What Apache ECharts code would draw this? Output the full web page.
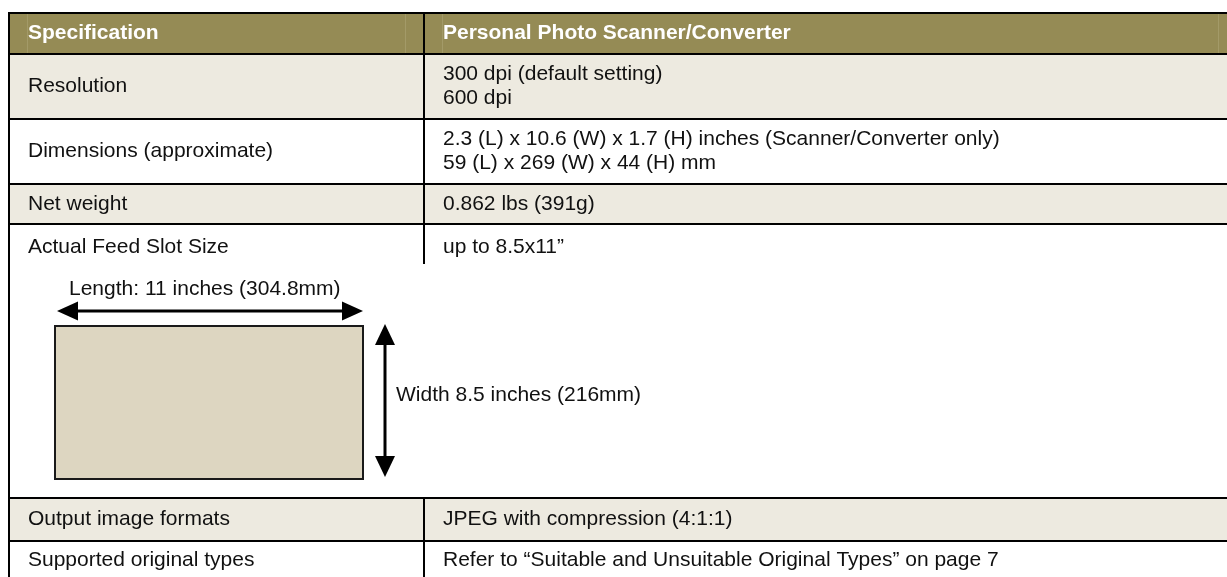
<!DOCTYPE html>
<html><head><meta charset="utf-8">
<script src="https://cdn.jsdelivr.net/npm/echarts@6/dist/echarts.min.js"></script>
<style>html,body{margin:0;padding:0;background:#fff}#c{width:1227px;height:577px}</style>
</head><body><div id="c"></div>
<script>
// ---- content ----
const headers = ['Specification', 'Personal Photo Scanner/Converter'];
const specNames = ['Resolution', 'Dimensions (approximate)', 'Net weight', 'Actual Feed Slot Size', 'Output image formats', 'Supported original types'];
const specValues = [
  ['300 dpi (default setting)', '600 dpi'],
  ['2.3 (L) x 10.6 (W) x 1.7 (H) inches (Scanner/Converter only)', '59 (L) x 269 (W) x 44 (H) mm'],
  ['0.862 lbs (391g)'],
  ['up to 8.5x11\u201d'],
  ['JPEG with compression (4:1:1)'],
  ['Refer to \u201cSuitable and Unsuitable Original Types\u201d on page 7']
];
const slotLabels = ['Length: 11 inches (304.8mm)', 'Width 8.5 inches (216mm)'];

// ---- layout (pixels) ----
const W = 1227, H = 577;
const tableLeft = 9, colSplit = 424, padLeftCol = 28, padRightCol = 443;
const rowEdges = [13, 54, 119, 184, 224, 498, 541, 579];   // header + 6 rows
const textBand = {3: [224, 270]};                          // text band for the slot row
const splitBreak = [264, 498];                             // column divider gap (diagram area)
const headGuides = [27, 405, 442, 1218];                   // faint cell-margin guides in header
const lineH = 24;
const FONT = '21px "Liberation Sans", Arial, sans-serif';
const FONT_B = 'bold 21px "Liberation Sans", Arial, sans-serif';
const C_HEAD = '#958B55', C_BEIGE = '#EDEAE0', C_WHITE = '#FFFFFF', C_TEXT = '#111111', C_BOX = '#DDD6C1';
const rowFill = [C_BEIGE, C_WHITE, C_BEIGE, C_WHITE, C_BEIGE, C_WHITE];
// diagram geometry
const box = {x0: 55, y0: 326, x1: 363, y1: 479};
const hArrow = {x0: 57, x1: 363, y: 311};
const vArrow = {x: 385, y0: 324, y1: 477};
const head = 21, headHalf = 9.5;
const lenLabelPos = [69, 289], widLabelPos = [396, 395];

const rowsData = [-1].concat(specNames.map((_, i) => i)).map(i => [i]);

function P(api, x, y) { return api.coord([x, y]); }

function rowRender(params, api) {
  const i = api.value(0);
  const r = i + 1;
  const top = rowEdges[r], bot = rowEdges[r + 1];
  const a = P(api, tableLeft, top), b = P(api, W, bot);
  const isHead = i === -1;
  const fill = isHead ? C_HEAD : rowFill[i];
  const band = textBand[i] || [top, bot];
  const cy = P(api, 0, (band[0] + band[1]) / 2)[1];
  const children = [{type: 'rect', shape: {x: a[0], y: a[1], width: b[0] - a[0], height: b[1] - a[1]}, style: {fill: fill}}];
  if (isHead) {
    headGuides.forEach(gx => {
      const p = P(api, gx + 0.5, top), q = P(api, gx + 0.5, bot);
      children.push({type: 'line', shape: {x1: p[0], y1: p[1], x2: q[0], y2: q[1]}, style: {stroke: '#A39A68', lineWidth: 1}});
    });
  }
  const t0 = isHead ? headers[0] : specNames[i];
  const t1 = isHead ? headers[1] : specValues[i].join('\n');
  [[padLeftCol, t0], [padRightCol, t1]].forEach(([x, t]) => {
    children.push({type: 'text', x: P(api, x, 0)[0], y: cy,
      style: {text: t, font: isHead ? FONT_B : FONT, fill: isHead ? '#FFFFFF' : C_TEXT,
              align: 'left', verticalAlign: 'middle', lineHeight: lineH}});
  });
  return {type: 'group', children};
}

function linesRender(params, api) {
  const ch = [];
  const seg = (x0, y0, x1, y1) => {
    const p = P(api, x0, y0), q = P(api, x1, y1);
    ch.push({type: 'line', shape: {x1: p[0], y1: p[1], x2: q[0], y2: q[1]}, style: {stroke: '#000', lineWidth: 2}});
  };
  rowEdges.slice(0, -1).forEach(y => seg(tableLeft - 1, y, W, y));
  seg(tableLeft, rowEdges[0], tableLeft, H);
  seg(colSplit, rowEdges[0], colSplit, splitBreak[0]);
  seg(colSplit, splitBreak[1], colSplit, H);
  return {type: 'group', children: ch};
}

function diagramRender(params, api) {
  const ch = [];
  const a = P(api, box.x0, box.y0), b = P(api, box.x1, box.y1);
  ch.push({type: 'rect', shape: {x: a[0], y: a[1], width: b[0] - a[0], height: b[1] - a[1]}, style: {fill: C_BOX, stroke: '#1a1a1a', lineWidth: 2}});
  const poly = pts => ch.push({type: 'polygon', shape: {points: pts.map(p => P(api, p[0], p[1]))}, style: {fill: '#000'}});
  const ln = (x0, y0, x1, y1) => {
    const p = P(api, x0, y0), q = P(api, x1, y1);
    ch.push({type: 'line', shape: {x1: p[0], y1: p[1], x2: q[0], y2: q[1]}, style: {stroke: '#000', lineWidth: 3}});
  };
  // horizontal double arrow
  ln(hArrow.x0 + head - 2, hArrow.y, hArrow.x1 - head + 2, hArrow.y);
  poly([[hArrow.x0, hArrow.y], [hArrow.x0 + head, hArrow.y - headHalf], [hArrow.x0 + head, hArrow.y + headHalf]]);
  poly([[hArrow.x1, hArrow.y], [hArrow.x1 - head, hArrow.y - headHalf], [hArrow.x1 - head, hArrow.y + headHalf]]);
  // vertical double arrow
  ln(vArrow.x, vArrow.y0 + head - 2, vArrow.x, vArrow.y1 - head + 2);
  poly([[vArrow.x, vArrow.y0], [vArrow.x - headHalf - 0.5, vArrow.y0 + head], [vArrow.x + headHalf + 0.5, vArrow.y0 + head]]);
  poly([[vArrow.x, vArrow.y1], [vArrow.x - headHalf - 0.5, vArrow.y1 - head], [vArrow.x + headHalf + 0.5, vArrow.y1 - head]]);
  // labels
  [[lenLabelPos, slotLabels[0]], [widLabelPos, slotLabels[1]]].forEach(([p, t]) => {
    const q = P(api, p[0], p[1]);
    ch.push({type: 'text', x: q[0], y: q[1], style: {text: t, font: FONT, fill: C_TEXT, align: 'left', verticalAlign: 'middle'}});
  });
  return {type: 'group', children: ch};
}

const chart = echarts.init(document.getElementById('c'), null, {renderer: 'canvas'});
chart.setOption({
  animation: false,
  backgroundColor: '#fff',
  grid: {left: 0, right: 0, top: 0, bottom: 0},
  xAxis: {type: 'value', min: 0, max: W, show: false},
  yAxis: {type: 'value', min: 0, max: H, inverse: true, show: false},
  series: [
    {type: 'custom', renderItem: rowRender, data: rowsData, clip: false, silent: true, z: 1},
    {type: 'custom', renderItem: diagramRender, data: [[0]], clip: false, silent: true, z: 2},
    {type: 'custom', renderItem: linesRender, data: [[0]], clip: false, silent: true, z: 3}
  ]
});
</script></body></html>
